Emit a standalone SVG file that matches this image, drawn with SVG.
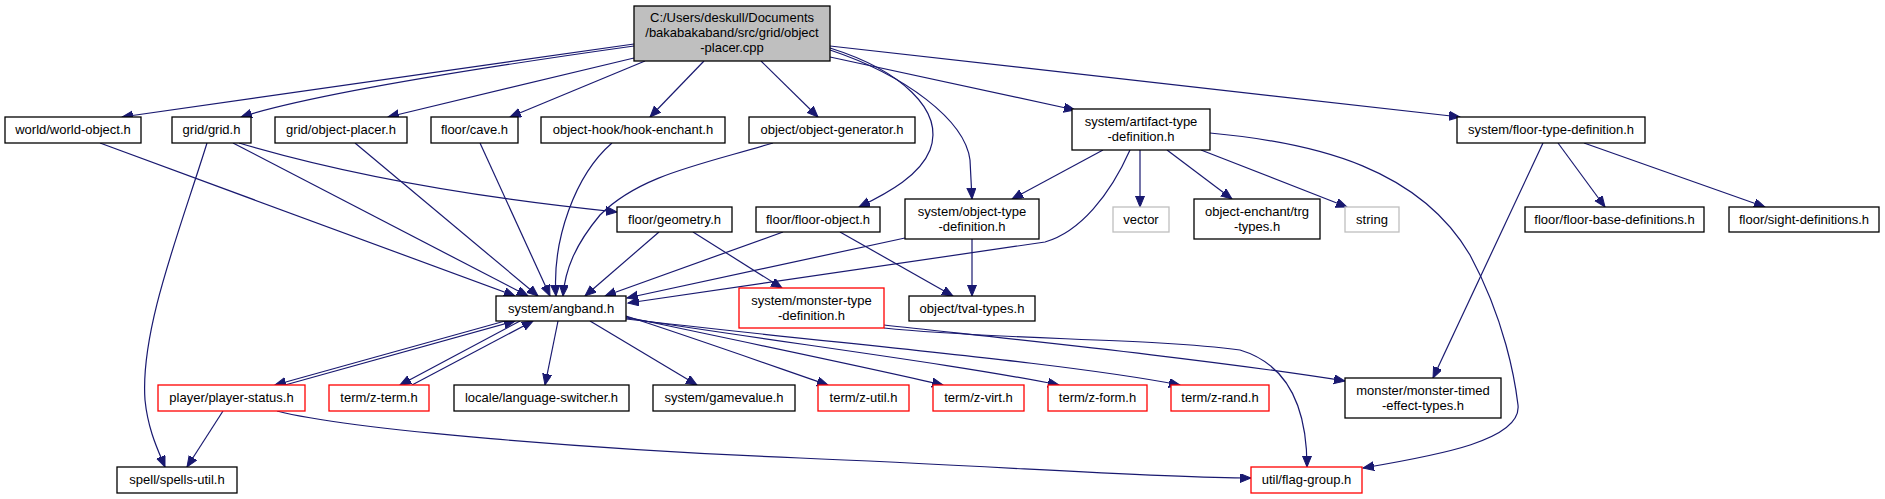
<svg xmlns="http://www.w3.org/2000/svg" width="1885" height="499" viewBox="0 0 1885 499">
<style>
.n rect{fill:#fff;stroke:#000;stroke-width:1.3}
.n.red rect{stroke:#ff0000}
.n.gray rect{stroke:#bfbfbf}
.n.main rect{fill:#bfbfbf}
.n text{font-family:"Liberation Sans",Arial,sans-serif;font-size:13px;fill:#000;text-anchor:middle}
#edges path{fill:none;stroke:#191970;stroke-width:1.2;marker-end:url(#ah)}
</style>
<defs>
<marker id="ah" markerUnits="userSpaceOnUse" markerWidth="12" markerHeight="10" refX="11" refY="4.5" orient="auto">
<path d="M0,0 L11,4.5 L0,9 z" fill="#191970" stroke="#191970" stroke-width="1"/>
</marker>
</defs>
<rect width="1885" height="499" fill="#fff"/>
<g id="edges">
<path d="M634,44 L122,117"/>
<path d="M634,46 C520,62 320,92 241,117"/>
<path d="M634,58 L388,117"/>
<path d="M645,61 L510,117"/>
<path d="M704,61 L650,117"/>
<path d="M761,61 L818,117"/>
<path d="M830,48 C900,70 945,110 930,150 C920,175 890,192 859,207"/>
<path d="M830,50 C905,75 965,120 970,160 L972,199"/>
<path d="M830,57 L1075,110"/>
<path d="M830,46 L1460,117"/>
<path d="M233,143 L528,296"/>
<path d="M239,143 C330,170 450,195 617,212"/>
<path d="M207,143 C180,230 140,330 145,400 C148,430 158,450 165,467"/>
<path d="M100,143 L515,296"/>
<path d="M355,143 L538,296"/>
<path d="M480,143 L550,296"/>
<path d="M612,143 C575,175 552,240 556,296"/>
<path d="M773,143 C700,165 640,175 600,215 C575,245 565,270 563,296"/>
<path d="M659,232 L585,296"/>
<path d="M693,232 L782,288"/>
<path d="M783,232 L605,296"/>
<path d="M840,232 L953,296"/>
<path d="M905,238 L627,298"/>
<path d="M972,239 L972,296"/>
<path d="M1103,150 L1012,199"/>
<path d="M1130,150 C1110,195 1080,232 1045,242 L628,303"/>
<path d="M1140,150 L1140,207"/>
<path d="M1167,150 L1232,199"/>
<path d="M1201,150 L1347,207"/>
<path d="M1210,133 C1320,143 1420,170 1470,255 C1505,320 1515,380 1518,405 C1522,440 1440,455 1363,468"/>
<path d="M1543,143 L1433,378"/>
<path d="M1558,143 L1605,207"/>
<path d="M1584,143 L1765,207"/>
<path d="M505,321 L275,385"/>
<path d="M285,385 L515,321"/>
<path d="M520,321 L400,385"/>
<path d="M412,385 L533,321"/>
<path d="M558,321 L545,385"/>
<path d="M590,321 L697,385"/>
<path d="M626,316 C700,340 770,365 828,385"/>
<path d="M626,317 C760,345 870,368 943,385"/>
<path d="M626,318 C800,345 960,365 1059,385"/>
<path d="M626,319 C850,345 1060,362 1180,385"/>
<path d="M884,325 C1000,338 1200,358 1345,381"/>
<path d="M884,328 C1000,340 1150,338 1240,350 C1290,365 1307,410 1307,467"/>
<path d="M277,411 C350,430 600,450 800,458 C1000,466 1150,478 1251,478"/>
<path d="M223,411 L187,467"/>
</g>
<g id="main" class="n main"><rect x="634" y="6" width="196" height="55"/><text x="732" y="22">C:/Users/deskull/Documents</text><text x="732" y="37">/bakabakaband/src/grid/object</text><text x="732" y="52">-placer.cpp</text></g>
<g id="world-object" class="n"><rect x="5" y="117" width="136" height="26"/><text x="73" y="134">world/world-object.h</text></g>
<g id="grid" class="n"><rect x="172" y="117" width="79" height="26"/><text x="211.5" y="134">grid/grid.h</text></g>
<g id="object-placer" class="n"><rect x="275" y="117" width="132" height="26"/><text x="341" y="134">grid/object-placer.h</text></g>
<g id="cave" class="n"><rect x="431" y="117" width="87" height="26"/><text x="474.5" y="134">floor/cave.h</text></g>
<g id="hook-enchant" class="n"><rect x="541" y="117" width="184" height="26"/><text x="633" y="134">object-hook/hook-enchant.h</text></g>
<g id="object-generator" class="n"><rect x="749" y="117" width="166" height="26"/><text x="832" y="134">object/object-generator.h</text></g>
<g id="artifact-type" class="n"><rect x="1072" y="109" width="138" height="41"/><text x="1141" y="126">system/artifact-type</text><text x="1141" y="141">-definition.h</text></g>
<g id="floor-type" class="n"><rect x="1457" y="117" width="188" height="26"/><text x="1551" y="134">system/floor-type-definition.h</text></g>
<g id="geometry" class="n"><rect x="617" y="207" width="115" height="25"/><text x="674.5" y="224">floor/geometry.h</text></g>
<g id="floor-object" class="n"><rect x="756" y="207" width="124" height="25"/><text x="818" y="224">floor/floor-object.h</text></g>
<g id="object-type" class="n"><rect x="905" y="199" width="134" height="40"/><text x="972" y="216">system/object-type</text><text x="972" y="231">-definition.h</text></g>
<g id="vector" class="n gray"><rect x="1113" y="207" width="56" height="25"/><text x="1141" y="224">vector</text></g>
<g id="trg-types" class="n"><rect x="1194" y="199" width="126" height="40"/><text x="1257" y="216">object-enchant/trg</text><text x="1257" y="231">-types.h</text></g>
<g id="string" class="n gray"><rect x="1345" y="207" width="54" height="25"/><text x="1372" y="224">string</text></g>
<g id="floor-base" class="n"><rect x="1525" y="207" width="179" height="25"/><text x="1614.5" y="224">floor/floor-base-definitions.h</text></g>
<g id="sight" class="n"><rect x="1729" y="207" width="150" height="25"/><text x="1804" y="224">floor/sight-definitions.h</text></g>
<g id="angband" class="n"><rect x="496" y="296" width="130" height="25"/><text x="561" y="313">system/angband.h</text></g>
<g id="monster-type" class="n red"><rect x="739" y="288" width="145" height="40"/><text x="811.5" y="305">system/monster-type</text><text x="811.5" y="320">-definition.h</text></g>
<g id="tval" class="n"><rect x="909" y="296" width="126" height="25"/><text x="972" y="313">object/tval-types.h</text></g>
<g id="player-status" class="n red"><rect x="158" y="385" width="147" height="26"/><text x="231.5" y="402">player/player-status.h</text></g>
<g id="z-term" class="n red"><rect x="329" y="385" width="100" height="26"/><text x="379" y="402">term/z-term.h</text></g>
<g id="language-switcher" class="n"><rect x="454" y="385" width="175" height="26"/><text x="541.5" y="402">locale/language-switcher.h</text></g>
<g id="gamevalue" class="n"><rect x="653" y="385" width="142" height="26"/><text x="724" y="402">system/gamevalue.h</text></g>
<g id="z-util" class="n red"><rect x="818" y="385" width="91" height="26"/><text x="863.5" y="402">term/z-util.h</text></g>
<g id="z-virt" class="n red"><rect x="933" y="385" width="91" height="26"/><text x="978.5" y="402">term/z-virt.h</text></g>
<g id="z-form" class="n red"><rect x="1048" y="385" width="99" height="26"/><text x="1097.5" y="402">term/z-form.h</text></g>
<g id="z-rand" class="n red"><rect x="1171" y="385" width="98" height="26"/><text x="1220" y="402">term/z-rand.h</text></g>
<g id="monster-timed" class="n"><rect x="1345" y="378" width="156" height="40"/><text x="1423" y="395">monster/monster-timed</text><text x="1423" y="410">-effect-types.h</text></g>
<g id="spells-util" class="n"><rect x="117" y="467" width="120" height="26"/><text x="177" y="484">spell/spells-util.h</text></g>
<g id="flag-group" class="n red"><rect x="1251" y="467" width="111" height="26"/><text x="1306.5" y="484">util/flag-group.h</text></g>
</svg>
